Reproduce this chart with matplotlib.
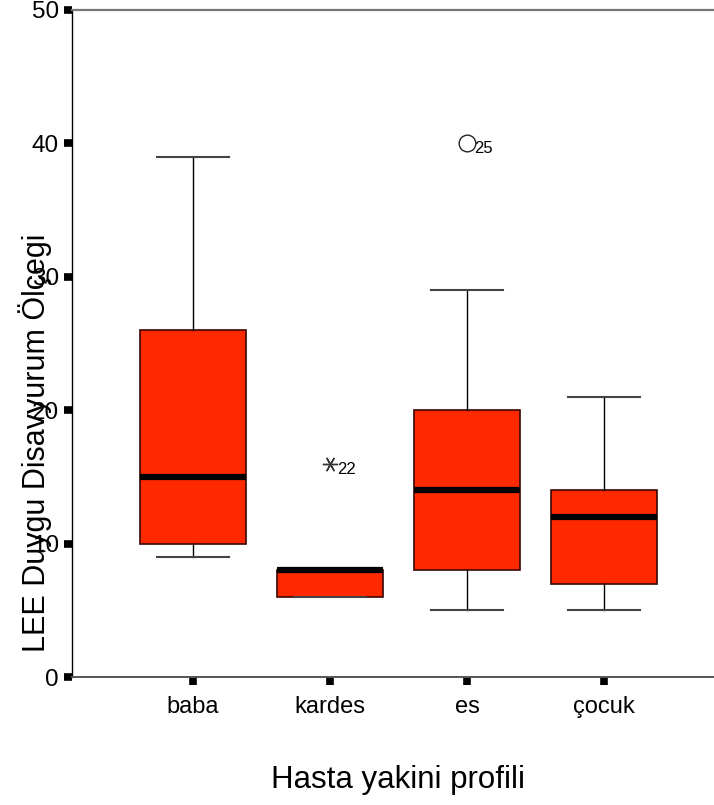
import matplotlib
matplotlib.use("Agg")
import matplotlib.pyplot as plt

plt.rcParams['font.family'] = ['Liberation Sans', 'DejaVu Sans']

groups = ['baba', 'kardes', 'es', 'çocuk']
whislo = [9, 6, 5, 5]
q1 = [10, 6, 8, 7]
med = [15, 8, 14, 12]
q3 = [26, 8, 20, 14]
whishi = [39, 8, 29, 21]

# outliers: group position, value, case label
out_pos = [2, 3]
out_val = [16, 40]
out_lab = ['22', '25']

stats = []
for i in range(len(groups)):
    stats.append(dict(label=groups[i], whislo=whislo[i], q1=q1[i], med=med[i],
                      q3=q3[i], whishi=whishi[i], fliers=[]))

fig = plt.figure(figsize=(7.14, 8.05), dpi=100)
ax = fig.add_axes([72 / 714, 128 / 805, 1 - 72 / 714, 667 / 805])

ax.bxp(stats, positions=[1, 2, 3, 4], widths=0.78, capwidths=0.53,
       patch_artist=True, showfliers=False,
       boxprops=dict(facecolor='#ff2900', edgecolor='#3a0500', linewidth=1.2),
       medianprops=dict(color='black', linewidth=4.5, solid_capstyle='butt'),
       whiskerprops=dict(color='black', linewidth=1),
       capprops=dict(color='#444444', linewidth=1.5))

# kardes extreme (asterisk) and es outlier (circle)
ax.plot(out_pos[0], out_val[0], linestyle='none', marker=(6, 2, 90),
        markersize=11, markeredgecolor='#333333', markeredgewidth=1)
ax.plot(out_pos[1], out_val[1], linestyle='none', marker='o', markersize=12,
        markerfacecolor='none', markeredgecolor='#222222', markeredgewidth=1)
for p, v, t in zip(out_pos, out_val, out_lab):
    ax.annotate(t, (p, v), xytext=(5, -4), textcoords='offset points',
                ha='left', va='center', fontsize=12)

ax.set_xlim(1 - 121 / 137, 1 + 521 / 137)
ax.set_ylim(0, 50)
ax.set_yticks([0, 10, 20, 30, 40, 50])
ax.set_xticks([1, 2, 3, 4])
ax.set_xticklabels(groups)

ax.tick_params(axis='y', direction='out', length=5.5, width=5.5, color='black',
               labelsize=17.5, pad=4)
ax.tick_params(axis='x', direction='out', length=5.5, width=5.5, color='black',
               labelsize=17, pad=8)

ax.spines['right'].set_visible(False)
ax.spines['left'].set_color('black')
ax.spines['left'].set_linewidth(1)
ax.spines['top'].set_color('#777777')
ax.spines['top'].set_linewidth(1.6)
ax.spines['bottom'].set_color('#555555')
ax.spines['bottom'].set_linewidth(1.4)

fig.text(35 / 714, 1 - 443 / 805, 'LEE Duygu Disavyurum Ölçegi', rotation=90,
         ha='center', va='center', fontsize=22)
fig.text(398 / 714, 1 - 780 / 805, 'Hasta yakini profili',
         ha='center', va='center', fontsize=22.5)

fig.savefig('out.png', dpi=100)
